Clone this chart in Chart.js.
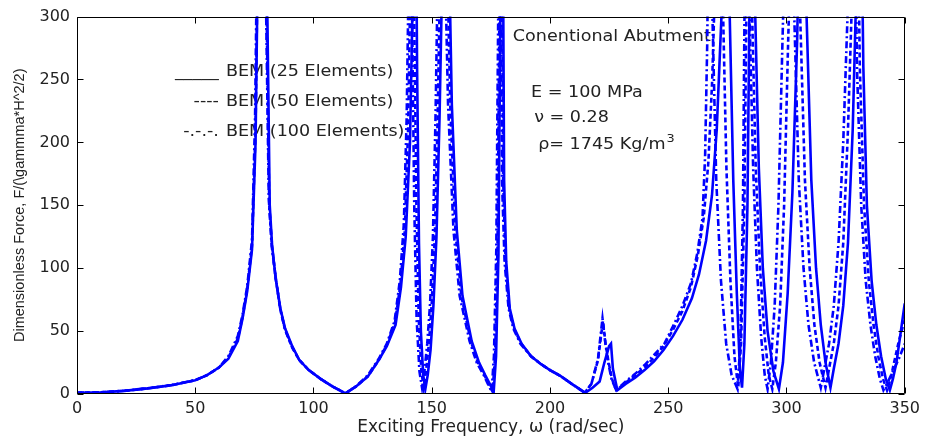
<!DOCTYPE html>
<html><head><meta charset="utf-8">
<script src="https://cdn.jsdelivr.net/npm/chart.js@4.4.0/dist/chart.umd.min.js"></script>
<style>html,body{margin:0;padding:0;background:#fff;}#wrap{width:925px;height:442px;}</style>
</head><body><div id="wrap"><canvas id="c" width="925" height="442"></canvas></div>
<script>
// ---- Data (omega in rad/sec, dimensionless force) ----
const omega25 = [
0,10,20,30,40,50,55,60,64,68,
70,72,74,75.5,76.5,77.5,78.5,79.5,80.5,81.5,
82.5,84,86,88,91,94,98,103,108,113.5,
118,123,127.6,131,134.7,137,139,140.8,142,143,
143.8,144.6,145.4,146.4,147.3,148.3,149.5,150.7,152,153.3,
154.5,155.8,157,158.5,160.6,163,166.9,170,172.6,174.8,
176.2,177.2,178.2,179,179.8,180.6,181.5,183,185,188,
192,196,200,204.7,210,215,218,221,223,225,
225.8,226.6,228.5,232,236,240,244,248,252,256,
260,263,266,268.5,270.5,272.5,274.5,276,277.5,279,
280.3,281.2,282.2,283.5,285.3,286.8,288.3,290,292,294.5,
296.8,298.5,300.5,302.5,304.5,306.5,308.5,310.5,312.5,314.5,
316.5,318.6,320,322,324,326,328,329.5,331,332.5,
334,336,338,340,342,343.7,345,346.5,348,350];
const force25 = [
1,1.3,2.5,4.5,7,11,15,21,28,42,
60,82,115,200,350,520,600,450,300,150,
118,92,68,52,38,27,19,12,6,0.5,
6,14,27,38,55,85,125,200,320,480,
260,120,50,15,4,15,35,70,125,220,
340,500,380,230,130,78,42,25,15,7,
2,30,110,300,480,170,105,68,52,40,
30,24,19,14,7,1,5,10,25,38,
40,20,3,8,13,19,26,35,46,59,
76,95,122,158,210,300,480,300,170,80,
20,5,40,150,480,300,180,100,50,18,
4,25,80,160,280,480,300,170,100,55,
25,5,20,40,70,120,210,320,480,260,
150,90,55,30,12,3,12,25,45,72];

const omega50 = [
0,10,20,30,40,50,55,60,64,68,
70,72,74,75.5,76.5,77.3,78.2,79.2,80.2,81.3,
82.5,84,86,88,91,94,98,103,108,113.5,
118,123,127.6,131,134.5,136.8,138.6,140,141,141.8,
142.6,143.5,144.5,145.6,146.6,147.6,148.8,150,151.3,152.5,
153.6,154.8,156.2,157.8,160,162.5,166.5,169.5,172.3,174.3,
175.7,176.8,177.8,178.6,179.4,180.2,181.2,182.8,184.8,187.8,
192,196,200,204.7,210,214.7,217.5,220.3,222.4,223.5,
224.8,226.2,228,232,236,240,244,248,252,256,
259.6,262.5,265,267,268.6,270,271.5,273,274.6,276.3,
278,279.6,280.8,282.2,284,285.5,287,288.8,290.8,292.5,
294,295.5,297.3,299,300.7,302.5,304,305.8,307.8,309.8,
311.8,314,316.5,318,320,322,324,326,327.8,329.5,
331,332.8,334.8,336.8,338.8,340.8,342.5,344,345.5,347.5,
350];
const force50 = [
1,1.3,2.5,4.5,7,11,15,21,29,44,
61,84,118,210,360,520,600,450,300,150,
117,92,67,51,37,27,19,12,6,0.5,
6,14,27,39,57,88,130,210,330,480,
300,150,60,18,5,18,40,72,125,220,
340,500,380,230,130,78,42,25,15,7,
2,30,115,300,480,170,105,68,52,40,
30,24,19,14,7,1,8,27,58,40,
25,12,3,9,15,21,29,38,51,66,
85,110,140,185,250,340,480,320,180,90,
30,5,40,150,480,300,180,100,45,15,
4,25,70,150,280,400,480,300,170,100,
55,25,5,20,40,70,120,210,320,480,
260,150,90,55,30,12,3,12,25,42,
59];

const omega100 = [
0,10,20,30,40,50,55,60,64,68,
70,72,74,75.3,76.3,77.1,78,79,80,81.1,
82.3,84,86,88,91,94,98,103,108,113.5,
118,123,127.6,131,134.3,136.5,138.2,139.4,140.3,141,
141.7,142.6,143.6,144.8,145.9,146.9,148.1,149.3,150.5,151.6,
152.6,153.7,155.2,156.9,159.2,161.8,166,169,172,174,
175.3,176.3,177.3,178.1,178.9,179.7,180.8,182.5,184.5,187.5,
192,196,200,204.7,210,214.7,217.5,220.3,222.2,223.3,
224.5,226,228,232,236,240,244,248.4,252.6,256,
259.6,262.3,264.5,265.6,266.5,267.5,268.7,270.3,272.3,274.5,
276.8,279.3,280.5,281.6,283,284.4,285.9,287.5,289.3,290.8,
292,293.4,295,296.6,298.3,300,301.5,303.3,305.2,307.2,
309.3,311.7,314.5,316,318,320,322,324,325.8,327.2,
328.3,329.8,331.6,333.5,335.5,337.5,339.5,341,343,345,
347.5,350];
const force100 = [
1,1.3,2.6,4.6,7.2,11,15,21,30,46,
63,86,122,220,380,520,600,450,300,155,
118,93,67,51,37,27,19,12,6,0.5,
6,15,28,40,58,90,135,220,340,480,
300,150,60,18,5,18,40,72,125,220,
340,500,380,230,130,78,42,25,15,7,
2,30,115,300,480,170,105,68,52,40,
30,24,19,14,7,1,8,28,60,42,
26,12,3,10,16,23,31,40,56,70,
88,112,140,190,280,480,300,170,90,40,
15,4,40,150,480,300,180,100,45,15,
4,25,70,150,280,400,480,300,170,100,
55,25,5,20,40,70,120,200,300,420,
480,260,150,90,55,30,12,3,10,18,
28,40];

const xTicks = [0,50,100,150,200,250,300,350];
const yTicks = [0,50,100,150,200,250,300];
const seriesNames = ['BEM (25 Elements)','BEM (50 Elements)','BEM (100 Elements)'];
const seriesMarks = ['_____','----','-.-.-.'];
const noteTitle = 'Conentional Abutment';
const noteLines = ['E = 100 MPa','\u03bd = 0.28','\u03c1= 1745 Kg/m'];
const xTitle = 'Exciting Frequency, \u03c9 (rad/sec)';
const yTitle = 'Dimensionless Force, F/(\\gammma*H^2/2)';

function pts(xs, ys){ return xs.map((x,i)=>({x:x, y:ys[i]})); }

const FONT = 'DejaVu Sans';
const TXT = '#222';
const BLUE = '#0000ff';
const SX = 1.17; // horizontal stretch of the reference's text

function stretchedText(ctx, str, px, py, align){
  ctx.save();
  ctx.translate(px, py);
  ctx.scale(SX, 1);
  ctx.textAlign = align;
  ctx.fillText(str, 0, 0);
  const w = ctx.measureText(str).width * SX;
  ctx.restore();
  return w;
}

const annotPlugin = {
  id: 'annot',
  beforeDatasetsDraw(chart){
    const {ctx, scales:{x, y}} = chart;
    ctx.save();
    ctx.fillStyle = TXT;
    ctx.font = '15px "' + FONT + '"';
    ctx.textBaseline = 'middle';
    const ly = [255.5, 232, 208.5];
    seriesNames.forEach((s,i)=>{
      stretchedText(ctx, s, x.getPixelForValue(63), y.getPixelForValue(ly[i]), 'left');
      stretchedText(ctx, seriesMarks[i], x.getPixelForValue(60), y.getPixelForValue(ly[i]), 'right');
    });
    stretchedText(ctx, noteTitle, x.getPixelForValue(184.3), y.getPixelForValue(284), 'left');
    stretchedText(ctx, noteLines[0], x.getPixelForValue(192), y.getPixelForValue(239), 'left');
    stretchedText(ctx, noteLines[1], x.getPixelForValue(193.3), y.getPixelForValue(219.5), 'left');
    const rx = x.getPixelForValue(195), ry = y.getPixelForValue(198);
    const w = stretchedText(ctx, noteLines[2], rx, ry, 'left');
    ctx.font = '11px "' + FONT + '"';
    stretchedText(ctx, '3', rx + w + 1, ry - 6, 'left');
    ctx.restore();
  },
  afterDatasetsDraw(chart){
    const {ctx, chartArea:a, scales:{x, y}} = chart;
    ctx.save();
    ctx.strokeStyle = '#000';
    ctx.lineWidth = 1;
    const L = Math.round(a.left)+0.5, R = Math.round(a.right)-0.5, T = Math.round(a.top)+0.5, B = Math.round(a.bottom)-0.5;
    ctx.beginPath();
    ctx.rect(L, T, R-L, B-T);
    xTicks.forEach(v=>{
      const px = Math.round(x.getPixelForValue(v))+0.5;
      ctx.moveTo(px, B); ctx.lineTo(px, B-6);
      ctx.moveTo(px, T); ctx.lineTo(px, T+6);
    });
    yTicks.forEach(v=>{
      const py = Math.round(y.getPixelForValue(v))+0.5;
      ctx.moveTo(L, py); ctx.lineTo(L+6, py);
      ctx.moveTo(R, py); ctx.lineTo(R-6, py);
    });
    ctx.stroke();
    ctx.restore();
  }
};

new Chart(document.getElementById('c'), {
  type: 'line',
  data: {
    datasets: [
      {label: seriesNames[0], data: pts(omega25, force25), borderColor: BLUE, borderWidth: 2.6, pointRadius: 0, tension: 0, clip: 0, fill: false},
      {label: seriesNames[1], data: pts(omega50, force50), borderColor: BLUE, borderWidth: 2.6, borderDash: [5,3], pointRadius: 0, tension: 0, clip: 0, fill: false},
      {label: seriesNames[2], data: pts(omega100, force100), borderColor: BLUE, borderWidth: 2.6, borderDash: [7,3,2,3], pointRadius: 0, tension: 0, clip: 0, fill: false}
    ]
  },
  options: {
    responsive: false,
    animation: false,
    devicePixelRatio: 1,
    layout: {padding: {left: 0, right: 17, top: 15, bottom: 0}},
    plugins: {legend: {display: false}, tooltip: {enabled: false}},
    scales: {
      x: {
        type: 'linear', min: 0, max: 350,
        afterBuildTicks: s => { s.ticks = xTicks.map(v=>({value:v})); },
        ticks: {font: {family: FONT, size: 16}, color: TXT, padding: 5, maxRotation: 0, autoSkip: false},
        grid: {display: false, drawTicks: false, tickLength: 0},
        border: {display: false},
        title: {display: true, text: xTitle, font: {family: FONT, size: 17}, color: TXT, padding: {top: 0, bottom: 4}},
        afterFit: s => { s.height = 48; }
      },
      y: {
        type: 'linear', min: 0, max: 300,
        afterBuildTicks: s => { s.ticks = yTicks.map(v=>({value:v})); },
        ticks: {font: {family: FONT, size: 16}, color: TXT, padding: 7, autoSkip: false},
        grid: {display: false, drawTicks: false, tickLength: 0},
        border: {display: false},
        title: {display: true, text: yTitle, font: {family: 'Liberation Sans', size: 14.5}, color: TXT, padding: {top: 11, bottom: 0}},
        afterFit: s => { s.width = 77; }
      }
    }
  },
  plugins: [annotPlugin]
});
</script>
</body></html>
